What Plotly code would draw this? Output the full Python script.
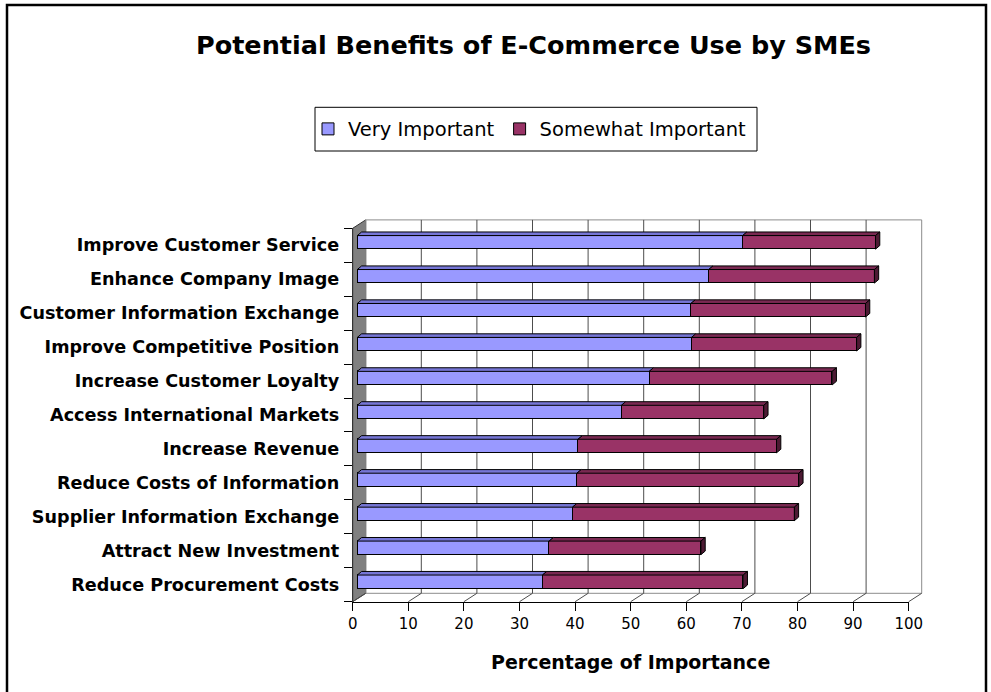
import plotly.graph_objects as go

# ---- data -------------------------------------------------------------
categories = [
    "Improve Customer Service",
    "Enhance Company Image",
    "Customer Information Exchange",
    "Improve Competitive Position",
    "Increase Customer Loyalty",
    "Access International Markets",
    "Increase Revenue",
    "Reduce Costs of Information",
    "Supplier Information Exchange",
    "Attract New Investment",
    "Reduce Procurement Costs",
]
very_important = [69.3, 63.2, 60.0, 60.1, 52.5, 47.5, 39.7, 39.5, 38.7, 34.5, 33.3]
somewhat_important = [23.9, 29.8, 31.4, 29.7, 32.9, 25.6, 35.7, 39.9, 39.9, 27.3, 36.1]
value_ticks = [0, 10, 20, 30, 40, 50, 60, 70, 80, 90, 100]

# ---- styling ----------------------------------------------------------
BLUE, MAROON = "#9999FF", "#993366"
BLUE_TOP = "#7676D6"
MAROON_TOP, MAROON_SIDE = "#7A2952", "#4D1A33"
WALL_GRAY = "#808080"
GRID = "#4d4d4d"
FRAME = "#8c8c8c"
FONT = "DejaVu Sans"

# ---- pseudo-3D frame layout (pixels) ----------------------------------
W, H = 991, 692
FRONT_L, FRONT_R = 352.7, 908.7     # front edge of the floor
FRONT_T, FRONT_B = 228.3, 601.7     # front edge of the side wall
WALL_DX, WALL_DY = 13.0, 8.4        # depth of the back wall
BAR_DX, BAR_DY = 4.6, 2.9           # depth of the bars' front faces
BAR_SIDE_DX, BAR_SIDE_DY = 4.3, 3.6 # visible thickness of the bars
BAR_THICK = 0.40
PAD = 3.0

n = len(categories)
ppu = (FRONT_R - FRONT_L) / (value_ticks[-1] - value_ticks[0])
ppc = (FRONT_B - FRONT_T) / n

box_l, box_r = FRONT_L - PAD, FRONT_R + WALL_DX + PAD
box_t, box_b = FRONT_T - WALL_DY - PAD, FRONT_B + PAD

xr0 = -(FRONT_L + BAR_DX - box_l) / ppu
x_rng = [xr0, xr0 + (box_r - box_l) / ppu]
yr0 = -0.5 - (box_b - FRONT_B + BAR_DY) / ppc
y_rng = [yr0, yr0 + (box_b - box_t) / ppc]


def xdom(a, b):
    return [a / W, b / W]


def ydom(top, bottom):
    return [1 - bottom / H, 1 - top / H]


def shift(v, c, dx_px, dy_px):
    return v + dx_px / ppu, c + dy_px / ppc


def front(v, c):
    return shift(v, c, -BAR_DX, -BAR_DY)


def back(v, c):
    return shift(v, c, WALL_DX - BAR_DX, WALL_DY - BAR_DY)


def poly(points):
    return "M " + " L ".join(f"{x:.4f},{y:.4f}" for x, y in points) + " Z"


pos = [n - 1 - i for i in range(n)]
lo, hi = -0.5, n - 0.5
vmin, vmax = value_ticks[0], value_ticks[-1]

shapes = []

# side wall
shapes.append(dict(type="path", xref="x", yref="y", layer="below",
                   path=poly([front(vmin, lo), front(vmin, hi), back(vmin, hi), back(vmin, lo)]),
                   fillcolor=WALL_GRAY, line=dict(color="#333333", width=1)))
# back wall outline
bl, tr = back(vmin, lo), back(vmax, hi)
shapes.append(dict(type="rect", xref="x", yref="y", layer="below",
                   x0=bl[0], y0=bl[1], x1=tr[0], y1=tr[1],
                   line=dict(color=FRAME, width=1)))
# back wall gridlines
for t in value_ticks[1:-1]:
    (ax, ay), (bx, by) = back(t, lo), back(t, hi)
    shapes.append(dict(type="line", xref="x", yref="y", layer="below",
                       x0=ax, y0=ay, x1=bx, y1=by, line=dict(color=GRID, width=1)))
# floor depth lines
for t in value_ticks:
    (ax, ay), (bx, by) = front(t, lo), back(t, lo)
    shapes.append(dict(type="line", xref="x", yref="y", layer="below",
                       x0=ax, y0=ay, x1=bx, y1=by, line=dict(color=GRID, width=1)))

# bar top and end faces
h = BAR_THICK / 2
sdx, sdy = BAR_SIDE_DX / ppu, BAR_SIDE_DY / ppc
for p, a, b in zip(pos, very_important, somewhat_important):
    tot = a + b
    top = p + h
    shapes.append(dict(type="path", xref="x", yref="y", layer="above",
                       path=poly([(0, top), (a, top), (a + sdx, top + sdy), (sdx, top + sdy)]),
                       fillcolor=BLUE_TOP, line=dict(color="black", width=1)))
    shapes.append(dict(type="path", xref="x", yref="y", layer="above",
                       path=poly([(a, top), (tot, top), (tot + sdx, top + sdy), (a + sdx, top + sdy)]),
                       fillcolor=MAROON_TOP, line=dict(color="black", width=1)))
    shapes.append(dict(type="path", xref="x", yref="y", layer="above",
                       path=poly([(tot, p - h), (tot, top), (tot + sdx, top + sdy), (tot + sdx, p - h + sdy)]),
                       fillcolor=MAROON_SIDE, line=dict(color="black", width=1)))

# legend frame and outer chart border
shapes.append(dict(type="rect", xref="paper", yref="paper",
                   x0=315 / W, x1=757 / W, y0=1 - 151 / H, y1=1 - 107.3 / H,
                   line=dict(color="black", width=1)))
shapes.append(dict(type="rect", xref="paper", yref="paper",
                   x0=7 / W, x1=986 / W, y0=1 - 700 / H, y1=1 - 5 / H,
                   line=dict(color="black", width=2.5)))

fig = go.Figure()
fig.add_trace(go.Bar(
    name="Very Important", orientation="h", y=pos, x=very_important,
    width=BAR_THICK, marker=dict(color=BLUE, line=dict(color="black", width=1)),
    xaxis="x", yaxis="y", hoverinfo="skip"))
fig.add_trace(go.Bar(
    name="Somewhat Important", orientation="h", y=pos, x=somewhat_important,
    width=BAR_THICK, marker=dict(color=MAROON, line=dict(color="black", width=1)),
    xaxis="x", yaxis="y", hoverinfo="skip"))
# front axes (value scale and category labels)
fig.add_trace(go.Scatter(x=[None], y=[None], xaxis="x2", yaxis="y2",
                         showlegend=False, hoverinfo="skip"))

fig.update_layout(
    width=W, height=H, autosize=False,
    margin=dict(l=0, r=0, t=0, b=0, pad=0, autoexpand=False),
    paper_bgcolor="white", plot_bgcolor="rgba(0,0,0,0)",
    barmode="stack", bargap=0, hovermode=False,
    font=dict(family=FONT, color="black"),
    title=dict(text="Potential Benefits of E-Commerce Use by SMEs",
               x=533.5 / W, y=1 - 45.5 / H, xanchor="center", yanchor="middle",
               font=dict(family=FONT, size=25.5, weight="bold", color="black")),
    legend=dict(orientation="h", x=530 / W, xanchor="center",
                y=1 - 129.2 / H, yanchor="middle",
                font=dict(family=FONT, size=19.5, color="black"),
                bgcolor="rgba(0,0,0,0)", borderwidth=0, itemwidth=30,
                traceorder="normal"),
    xaxis=dict(domain=xdom(box_l, box_r), range=x_rng, visible=False,
               anchor="y", fixedrange=True),
    yaxis=dict(domain=ydom(box_t, box_b), range=y_rng, visible=False,
               anchor="x", fixedrange=True),
    xaxis2=dict(domain=xdom(FRONT_L, FRONT_R), range=[vmin, vmax], anchor="y2",
                tickmode="array", tickvals=value_ticks,
                ticks="outside", ticklen=8, tickcolor="black", tickwidth=1,
                showline=True, linecolor="black", linewidth=1,
                showgrid=False, zeroline=False, automargin=False,
                tickfont=dict(family=FONT, size=15, color="black"),
                fixedrange=True),
    yaxis2=dict(domain=ydom(FRONT_T, FRONT_B), range=[lo, hi], anchor="x2",
                tickmode="array", tickvals=pos, ticktext=categories, ticks="",
                minor=dict(tickvals=[k - 0.5 for k in range(n + 1)], ticks="outside",
                           ticklen=8, tickcolor="black", tickwidth=1, showgrid=False),
                ticklabelstandoff=9, automargin=False,
                showline=True, linecolor="#333333", linewidth=1,
                showgrid=False, zeroline=False,
                tickfont=dict(family=FONT, size=17.6, weight="bold", color="black"),
                fixedrange=True),
    shapes=shapes,
    annotations=[dict(text="Percentage of Importance", xref="paper", yref="paper",
                      x=(FRONT_L + FRONT_R) / 2 / W, y=1 - 662 / H,
                      xanchor="center", yanchor="middle", showarrow=False,
                      font=dict(family=FONT, size=19, weight="bold", color="black"))],
)

fig.write_html("out.html")
